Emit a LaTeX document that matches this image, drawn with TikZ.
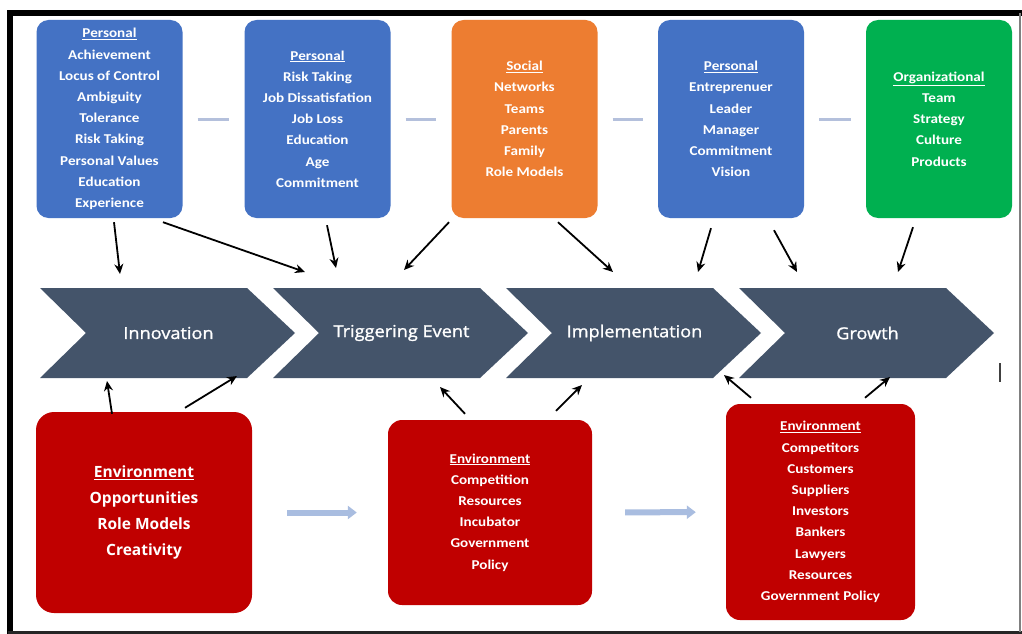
\documentclass[tikz,border=0pt]{standalone}
\usepackage{fontspec}
\setmainfont{Carlito}
\newfontfamily\boxfont[FakeStretch=1.12]{Carlito}
\newfontfamily\chevfont[FakeStretch=1.1,FakeBold=1.2]{Open Sans}
\newfontfamily\envfont{Open Sans}
\usetikzlibrary{arrows.meta,calc}
\definecolor{pblue}{HTML}{4472C4}
\definecolor{porange}{HTML}{ED7D31}
\definecolor{pgreen}{HTML}{00B050}
\definecolor{pred}{HTML}{C00000}
\definecolor{chevcol}{HTML}{44546A}
\definecolor{dashcol}{HTML}{B4C0DC}
\definecolor{blockcol}{HTML}{A9BDE0}
\tikzset{
  tbox/.style={rounded corners=12pt, minimum width=146pt, minimum height=198pt,
    inner sep=0pt, align=center, text=white,
    font=\boxfont\bfseries\fontsize{13.5}{21.2}\selectfont},
  rbox/.style={fill=pred, rounded corners=14pt, inner sep=0pt, align=center, text=white,
    font=\boxfont\bfseries\fontsize{13.5}{21.2}\selectfont},
  chevtext/.style={text=white, font=\chevfont\fontsize{16.5}{20}\selectfont},
  linkline/.style={draw=dashcol, line width=3pt, shorten <=15pt, shorten >=15pt},
  arr/.style={draw=black, line width=1.8pt, -{Stealth[length=10pt,width=9pt]}},
  blockarr/.style={draw=blockcol, line width=6pt, -{Triangle[length=9pt,width=13pt]}}
}
\begin{document}
\begin{tikzpicture}[x=1pt,y=-1pt]
\useasboundingbox (0,0) rectangle (1022,634);
\fill[white] (0,0) rectangle (1022,634);
% frame
\draw[line width=6pt] (10,634) -- (10,13) -- (1022,13);
\draw[line width=3pt, black!85] (8,632.5) -- (1022,632.5);
\draw[line width=2pt, gray] (1020,13) -- (1020,632);

% top boxes
\node[tbox, fill=pblue] (b1) at (109.5,119) {\underline{Personal}\\Achievement\\Locus of Control\\Ambiguity\\Tolerance\\Risk Taking\\Personal Values\\Education\\Experience};
\node[tbox, fill=pblue] (b2) at (317.5,119) {\underline{Personal}\\Risk Taking\\Job Dissatisfation\\Job Loss\\Education\\Age\\Commitment};
\node[tbox, fill=porange] (b3) at (524.5,119) {\underline{Social}\\Networks\\Teams\\Parents\\Family\\Role Models};
\node[tbox, fill=pblue] (b4) at (731,119) {\underline{Personal}\\Entreprenuer\\Leader\\Manager\\Commitment\\Vision};
\node[tbox, fill=pgreen] (b5) at (939,119) {\underline{Organizational}\\Team\\Strategy\\Culture\\Products};

\draw[linkline] (b1) -- (b2);
\draw[linkline] (b2) -- (b3);
\draw[linkline] (b3) -- (b4);
\draw[linkline] (b4) -- (b5);

% chevrons
\foreach \L in {40,273,506,739}{
  \fill[chevcol] (\L,288) -- (\L+207,288) -- (\L+255,333) -- (\L+207,378) -- (\L,378) -- (\L+46,333) -- cycle;
}
\node[chevtext] (c1) at (168.5,333) {Innovation};
\node[chevtext] (c2) at (401.5,333) {Triggering Event};
\node[chevtext] (c3) at (634.5,333) {Implementation};
\node[chevtext] (c4) at (867.5,333) {Growth};

% arrow heads above / below chevrons
\coordinate (h1) at (120,274);
\coordinate (h2) at (305,272);
\coordinate (h3) at (336,268);
\coordinate (h4) at (404,270);
\coordinate (h5) at (613,272);
\coordinate (h6) at (698,272);
\coordinate (h7) at (797,272);
\coordinate (h8) at (898,272);
\coordinate (g1) at (107,381);
\coordinate (g2) at (237,376);
\coordinate (g3) at (440,387);
\coordinate (g4) at (582,385);
\coordinate (g5) at (724,375);
\coordinate (g6) at (890,377);

\draw[arr] ($(b1.south)+(4.5,4)$) -- (h1);
\draw[arr] ($(b1.south)+(53.5,4)$) -- (h2);
\draw[arr] ($(b2.south)+(9.5,7)$) -- (h3);
\draw[arr] ($(b3.south)+(-75.5,4)$) -- (h4);
\draw[arr] ($(b3.south)+(33.5,4)$) -- (h5);
\draw[arr] ($(b4.south)+(-20,10)$) -- (h6);
\draw[arr] ($(b4.south)+(43,12)$) -- (h7);
\draw[arr] ($(b5.south)+(-26,9)$) -- (h8);

% bottom boxes
\node[rbox, rounded corners=18pt, minimum width=216pt, minimum height=201pt,
  font=\envfont\bfseries\fontsize{15.5}{26}\selectfont] (r1) at (144,512.5)
  {\underline{Environment}\\Opportunities\\Role Models\\Creativity};
\node[rbox, minimum width=204pt, minimum height=185pt] (r2) at (490,512.5)
  {\underline{Environment}\\Competition\\Resources\\Incubator\\Government\\Policy};
\node[rbox, minimum width=189pt, minimum height=216pt] (r3) at (820.5,512)
  {\underline{Environment}\\Competitors\\Customers\\Suppliers\\Investors\\Bankers\\Lawyers\\Resources\\Government Policy};

\draw[blockarr, shorten <=35pt, shorten >=31pt] (r1) -- (r2);
\draw[blockarr, shorten <=33pt, shorten >=30pt] (r2) -- (r3);

\draw[arr] ($(r1.north)+(-32,2)$) -- (g1);
\draw[arr] ($(r1.north)+(41,-4)$) -- (g2);
\draw[arr] ($(r2.north)+(-25,-6)$) -- (g3);
\draw[arr] ($(r2.north)+(66,-9)$) -- (g4);
\draw[arr] ($(r3.north)+(-69.5,-6)$) -- (g5);
\draw[arr] ($(r3.north)+(44.5,-6)$) -- (g6);

% small stray mark at right
\draw[line width=2pt, black!75] (1000,363) -- (1000,382);
\end{tikzpicture}
\end{document}
